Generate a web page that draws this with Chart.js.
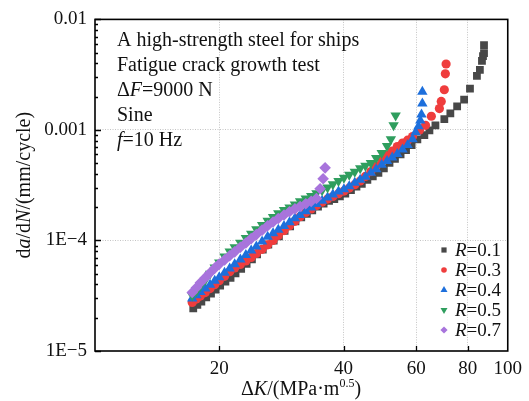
<!DOCTYPE html>
<html>
<head>
<meta charset="utf-8">
<script src="https://cdn.jsdelivr.net/npm/chart.js@4/dist/chart.umd.min.js"></script>
<style>
  html, body { margin: 0; padding: 0; background: #fff; }
  #wrap { width: 529px; height: 401px; position: relative; }
</style>
</head>
<body>
<div id="wrap"><canvas id="crackChart"></canvas></div>
<script>
// ΔK (MPa·m^0.5) and da/dN (mm/cycle) for each stress ratio R
const dK_R01 = [17.3, 17.7, 18.1, 18.6, 19.1, 19.6, 20.1, 20.7, 21.3, 21.9, 22.6, 23.3, 24.0, 24.7, 25.5, 26.3, 27.1, 27.9, 28.8, 29.7,
    30.6, 31.6, 32.6, 33.6, 34.7, 35.8, 36.9, 38.0, 39.2, 40.4, 41.7, 43.0, 44.3, 45.7, 47.1, 48.6, 50.1, 51.7, 53.3, 55.0,
    56.7, 58.5, 60.4, 62.8, 64.6, 66.8, 70.2, 72.6, 75.4, 78.4, 81.0, 84.2, 85.6, 86.6, 87.1, 87.6, 87.6];
const rate_R01 = [2.43e-5, 2.61e-5, 2.80e-5, 3.05e-5, 3.31e-5, 3.59e-5, 3.90e-5, 4.24e-5, 4.60e-5, 5.05e-5,
    5.54e-5, 6.14e-5, 6.74e-5, 7.47e-5, 8.28e-5, 9.18e-5, 9.97e-5, 1.09e-4, 1.22e-4, 1.34e-4,
    1.49e-4, 1.62e-4, 1.74e-4, 1.87e-4, 2.02e-4, 2.16e-4, 2.28e-4, 2.37e-4, 2.50e-4, 2.66e-4,
    2.85e-4, 3.07e-4, 3.26e-4, 3.54e-4, 3.81e-4, 4.09e-4, 4.49e-4, 5.03e-4, 5.46e-4, 6.00e-4,
    6.58e-4, 7.29e-4, 8.20e-4, 8.96e-4, 9.93e-4, 1.10e-3, 1.25e-3, 1.41e-3, 1.63e-3, 1.88e-3,
    2.36e-3, 3.09e-3, 3.49e-3, 4.21e-3, 4.66e-3, 4.96e-3, 5.85e-3];

const dK_R03 = [17.2, 17.6, 18.0, 18.5, 19.0, 19.5, 20.0, 20.6, 21.2, 21.8, 22.5, 23.2, 23.9, 24.6, 25.4, 26.2, 27.0, 27.8, 28.7, 29.6,
    30.5, 31.4, 32.4, 33.4, 34.4, 35.5, 36.6, 37.7, 38.9, 40.1, 41.3, 42.6, 43.9, 45.2, 46.6, 48.0, 49.5, 51.0, 52.5, 54.0,
    55.6, 57.2, 58.8, 61.1, 63.2, 65.3, 68.3, 69.0, 70.2, 70.6, 70.9];
const rate_R03 = [2.75e-5, 2.95e-5, 3.14e-5, 3.38e-5, 3.67e-5, 3.98e-5, 4.32e-5, 4.74e-5, 5.21e-5, 5.65e-5,
    6.06e-5, 6.53e-5, 7.03e-5, 7.62e-5, 8.31e-5, 9.14e-5, 1.00e-4, 1.11e-4, 1.23e-4, 1.36e-4,
    1.49e-4, 1.64e-4, 1.79e-4, 1.93e-4, 2.07e-4, 2.22e-4, 2.37e-4, 2.50e-4, 2.65e-4, 2.80e-4,
    2.98e-4, 3.20e-4, 3.45e-4, 3.80e-4, 4.20e-4, 4.70e-4, 5.30e-4, 5.90e-4, 6.44e-4, 7.07e-4,
    7.60e-4, 8.08e-4, 8.70e-4, 9.93e-4, 1.10e-3, 1.33e-3, 1.56e-3, 1.81e-3, 2.31e-3, 3.22e-3, 3.95e-3];

const dK_R04 = [17.2, 17.6, 18.0, 18.5, 19.0, 19.5, 20.0, 20.6, 21.2, 21.8, 22.5, 23.2, 23.9, 24.6, 25.4, 26.2, 27.0, 27.8, 28.7, 29.6,
    30.5, 31.4, 32.4, 33.4, 34.4, 35.5, 36.6, 37.7, 38.9, 40.1, 41.3, 42.6, 43.9, 45.2, 46.6, 48.0, 49.5, 51.0, 52.5, 54.0,
    55.6, 57.2, 58.8, 59.8, 60.8, 61.4, 61.8, 62.1, 62.1];
const rate_R04 = [2.98e-5, 3.19e-5, 3.42e-5, 3.67e-5, 3.98e-5, 4.31e-5, 4.65e-5, 5.10e-5, 5.57e-5, 6.10e-5,
    6.72e-5, 7.39e-5, 8.11e-5, 8.84e-5, 9.80e-5, 1.08e-4, 1.16e-4, 1.25e-4, 1.35e-4, 1.46e-4,
    1.59e-4, 1.70e-4, 1.84e-4, 1.99e-4, 2.14e-4, 2.29e-4, 2.45e-4, 2.60e-4, 2.77e-4, 2.91e-4,
    3.10e-4, 3.33e-4, 3.54e-4, 3.77e-4, 4.09e-4, 4.40e-4, 4.83e-4, 5.24e-4, 5.63e-4, 6.06e-4,
    6.65e-4, 7.29e-4, 8.25e-4, 9.53e-4, 1.08e-3, 1.22e-3, 1.38e-3, 1.73e-3, 2.22e-3];

const dK_R05 = [17.2, 17.6, 18.0, 18.5, 19.0, 19.5, 20.0, 20.6, 21.2, 21.8, 22.5, 23.2, 23.9, 24.6, 25.4, 26.2, 27.0, 27.8, 28.7, 29.6,
    30.5, 31.4, 32.4, 33.4, 34.4, 35.5, 36.6, 37.7, 38.9, 40.1, 41.3, 42.6, 43.9, 45.2, 46.6, 48.0, 49.5, 51.0,
    52.1, 52.9, 53.5];
const rate_R05 = [3.17e-5, 3.48e-5, 3.88e-5, 4.40e-5, 5.00e-5, 5.68e-5, 6.31e-5, 7.17e-5, 7.94e-5, 8.66e-5,
    9.55e-5, 1.05e-4, 1.15e-4, 1.26e-4, 1.38e-4, 1.51e-4, 1.63e-4, 1.76e-4, 1.89e-4, 1.99e-4,
    2.11e-4, 2.26e-4, 2.40e-4, 2.52e-4, 2.67e-4, 2.85e-4, 3.02e-4, 3.23e-4, 3.45e-4, 3.69e-4,
    3.93e-4, 4.18e-4, 4.49e-4, 4.75e-4, 5.03e-4, 5.58e-4, 6.18e-4, 7.14e-4,
    8.25e-4, 1.10e-3, 1.35e-3];

const dK_R07 = [17.2, 17.6, 18.0, 18.5, 19.0, 19.5, 20.0, 20.6, 21.2, 21.8, 22.5, 23.2, 23.9, 24.6, 25.4, 26.2, 27.0, 27.8, 28.7, 29.6,
    30.5, 31.4, 32.4, 33.4, 34.4, 35.1, 35.7, 36.1];
const rate_R07 = [3.38e-5, 3.73e-5, 4.14e-5, 4.61e-5, 5.10e-5, 5.62e-5, 6.11e-5, 6.67e-5, 7.27e-5, 7.89e-5,
    8.68e-5, 9.50e-5, 1.04e-4, 1.13e-4, 1.24e-4, 1.36e-4, 1.47e-4, 1.58e-4, 1.70e-4, 1.82e-4,
    1.93e-4, 2.03e-4, 2.15e-4, 2.26e-4, 2.40e-4, 2.94e-4, 3.62e-4, 4.54e-4];

const ratioLabels = ["0.1", "0.3", "0.4", "0.5", "0.7"];
const xTickValues = [20, 40, 60, 80, 100];
const xTickLabels = ["20", "40", "60", "80", "100"];
const yTickValues = [1e-5, 1e-4, 1e-3, 1e-2];
const yTickLabels = ["1E\u22125", "1E\u22124", "0.001", "0.01"];
const noteLines = [
    [["A high-strength steel for ships", ""]],
    [["Fatigue crack growth test", ""]],
    [["\u0394", ""], ["F", "i"], ["=9000 N", ""]],
    [["Sine", ""]],
    [["f", "i"], ["=10 Hz", ""]]
];

const SERIF = '"Liberation Serif", "Times New Roman", serif';

function partFont(p, size) {
    if (p[1] === "i") return "italic " + size + "px " + SERIF;
    if (p[1] === "sup") return Math.round(size * 0.62) + "px " + SERIF;
    return size + "px " + SERIF;
}

// draw a line of text made of plain / italic / superscript pieces
function drawParts(ctx, parts, x, y, size, align) {
    let total = 0;
    parts.forEach(p => { ctx.font = partFont(p, size); total += ctx.measureText(p[0]).width; });
    let cx = align === "center" ? x - total / 2 : x;
    ctx.textAlign = "left";
    parts.forEach(p => {
        ctx.font = partFont(p, size);
        ctx.fillText(p[0], cx, p[1] === "sup" ? y - size * 0.4 : y);
        cx += ctx.measureText(p[0]).width;
    });
}

function drawMarker(ctx, style, x, y) {
    ctx.beginPath();
    if (style === "rect") {
        ctx.rect(x - 2.6, y - 2.6, 5.2, 5.2);
    } else if (style === "circle") {
        ctx.arc(x, y, 2.8, 0, Math.PI * 2);
    } else if (style === "triangle") {
        ctx.moveTo(x, y - 4); ctx.lineTo(x + 3.5, y + 2); ctx.lineTo(x - 3.5, y + 2);
    } else if (style === "triangleDown") {
        ctx.moveTo(x, y + 4); ctx.lineTo(x + 3.5, y - 2); ctx.lineTo(x - 3.5, y - 2);
    } else {
        ctx.moveTo(x, y - 3.6); ctx.lineTo(x + 3.6, y); ctx.lineTo(x, y + 3.6); ctx.lineTo(x - 3.6, y);
    }
    ctx.closePath();
    ctx.fill();
}

const seriesK = [dK_R01, dK_R03, dK_R04, dK_R05, dK_R07];
const seriesRate = [rate_R01, rate_R03, rate_R04, rate_R05, rate_R07];
const colors = ["#484848", "#ef3d3d", "#1d6fdc", "#2f9e5e", "#a874dc"];
const styles = ["rect", "circle", "triangle", "triangle", "rectRot"];
const rotations = [0, 0, 0, 180, 0];
const radii = [5.5, 4.6, 6, 6, 5.8];
const legendStyles = ["rect", "circle", "triangle", "triangleDown", "rectRot"];

const datasets = seriesK.map((ks, i) => ({
    label: "R=" + ratioLabels[i],
    data: ks.map((k, j) => ({ x: k, y: seriesRate[i][j] })),
    backgroundColor: colors[i],
    borderColor: colors[i],
    pointStyle: styles[i],
    rotation: rotations[i],
    pointRadius: radii[i],
    pointBorderWidth: 0,
    order: 5 - i
}));

// inward ticks, frame, notes, legend and axis titles
const decorPlugin = {
    id: "decor",
    afterDatasetsDraw(chart) {
        const { ctx, chartArea: a, scales: { x, y } } = chart;
        ctx.save();
        ctx.strokeStyle = "#000";
        ctx.lineWidth = 1.3;
        ctx.beginPath();
        for (let e = -5; e <= -2; e++) {
            for (let m = 1; m <= 9; m++) {
                const v = m * Math.pow(10, e);
                if (v > 0.0100001) break;
                const py = Math.round(y.getPixelForValue(v)) + 0.5;
                ctx.moveTo(a.left, py);
                ctx.lineTo(a.left + (m === 1 ? 6 : 3), py);
            }
        }
        xTickValues.forEach(v => {
            if (v >= 100) return;
            const px = Math.round(x.getPixelForValue(v)) + 0.5;
            ctx.moveTo(px, a.bottom);
            ctx.lineTo(px, a.bottom - 5);
        });
        ctx.stroke();
        ctx.lineWidth = 1.6;
        ctx.strokeRect(a.left, a.top, a.right - a.left, a.bottom - a.top);
        ctx.restore();
    },
    afterDraw(chart) {
        const { ctx, chartArea: a } = chart;
        ctx.save();
        ctx.fillStyle = "#111";
        ctx.textBaseline = "alphabetic";
        noteLines.forEach((parts, i) => drawParts(ctx, parts, a.left + 22, 46 + i * 25, 20, "left"));

        // legend
        chart.data.datasets.forEach((ds, i) => {
            const ly = 250 + i * 20;
            ctx.fillStyle = colors[i];
            drawMarker(ctx, legendStyles[i], 444, ly);
            ctx.fillStyle = "#111";
            ctx.textBaseline = "middle";
            drawParts(ctx, [["R", "i"], ["=" + ratioLabels[i], ""]], 455, ly + 1, 19, "left");
        });

        // axis titles
        ctx.textBaseline = "alphabetic";
        drawParts(ctx, [["\u0394", ""], ["K", "i"], ["/(MPa\u00b7m", ""], ["0.5", "sup"], [")", ""]], 301, 395, 20, "center");
        ctx.translate(25, (a.top + a.bottom) / 2);
        ctx.rotate(-Math.PI / 2);
        ctx.textBaseline = "middle";
        drawParts(ctx, [["d", ""], ["a", "i"], ["/d", ""], ["N", "i"], ["/(mm/cycle)", ""]], 0, 0, 20, "center");
        ctx.restore();
    }
};

const tickFont = { family: SERIF, size: 19 };

new Chart(document.getElementById("crackChart"), {
    type: "scatter",
    data: { datasets: datasets },
    options: {
        responsive: true,
        maintainAspectRatio: false,
        animation: false,
        events: [],
        layout: { padding: { top: 15, right: 18, bottom: 0, left: 0 } },
        plugins: { legend: { display: false }, tooltip: { enabled: false } },
        scales: {
            x: {
                type: "logarithmic",
                min: 10,
                max: 100,
                afterBuildTicks: s => { s.ticks = xTickValues.map(v => ({ value: v })); },
                afterFit: s => { s.height = 50; },
                ticks: {
                    font: tickFont,
                    color: "#111",
                    padding: 7,
                    maxRotation: 0,
                    autoSkip: false,
                    callback: (v, i) => xTickLabels[i]
                },
                grid: {
                    drawTicks: false,
                    lineWidth: 1,
                    color: c => (c.index === xTickValues.length - 1 ? "rgba(0,0,0,0)" : "#c4c4c4")
                },
                border: { display: false, dash: [1, 1.5] }
            },
            y: {
                type: "logarithmic",
                min: 1e-5,
                max: 1e-2,
                afterBuildTicks: s => { s.ticks = yTickValues.map(v => ({ value: v })); },
                afterFit: s => { s.width = 95; },
                ticks: {
                    font: tickFont,
                    color: "#111",
                    padding: 8,
                    autoSkip: false,
                    callback: (v, i) => yTickLabels[i]
                },
                grid: {
                    drawTicks: false,
                    lineWidth: 1,
                    color: c => (c.index === 0 || c.index === yTickValues.length - 1 ? "rgba(0,0,0,0)" : "#c4c4c4")
                },
                border: { display: false, dash: [1, 1.5] }
            }
        }
    },
    plugins: [decorPlugin]
});
</script>
</body>
</html>
